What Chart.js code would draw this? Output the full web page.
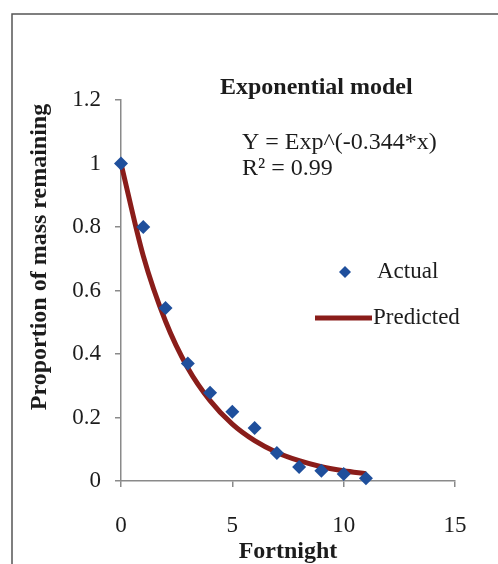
<!DOCTYPE html>
<html>
<head>
<meta charset="utf-8">
<title>Exponential model</title>
<script src="https://cdn.jsdelivr.net/npm/chart.js@4"></script>
<style>
    html, body { margin: 0; padding: 0; background: #fff; }
    #wrap { width: 498px; height: 564px; position: relative; }
</style>
</head>
<body>
<div id="wrap"><canvas id="decayChart"></canvas></div>
<script>
// Proportion of mass remaining per fortnight
const fortnight = [0, 1, 2, 3, 4, 5, 6, 7, 8, 9, 10, 11];
const actual = [1.0, 0.80, 0.545, 0.37, 0.278, 0.218, 0.167, 0.088, 0.044, 0.032, 0.022, 0.009];
// Y = Exp(-0.344 * x)
const predicted = [1.0, 0.709, 0.503, 0.356, 0.253, 0.179, 0.127, 0.090, 0.064, 0.045, 0.032, 0.023];

const xTicks = [0, 5, 10, 15];
const yTicks = [0, 0.2, 0.4, 0.6, 0.8, 1, 1.2];

const SERIF = '"Liberation Serif", "Times New Roman", serif';
const TEXT = '#1c1c1c';
const BLUE = '#1f4f9c';
const RED = '#8a1d1a';

// Frame, titles, equation and legend drawn straight onto the canvas
const annotations = {
    id: 'annotations',
    beforeDraw(chart) {
        const ctx = chart.ctx;
        ctx.save();
        ctx.strokeStyle = '#555';
        ctx.lineWidth = 1.5;
        ctx.beginPath();
        ctx.moveTo(12, 564);
        ctx.lineTo(12, 14);
        ctx.lineTo(498, 14);
        ctx.stroke();
        ctx.restore();
    },
    afterDraw(chart) {
        const ctx = chart.ctx;
        ctx.save();
        ctx.fillStyle = TEXT;
        ctx.textBaseline = 'middle';

        ctx.font = 'bold 24px ' + SERIF;
        ctx.textAlign = 'left';
        ctx.fillText('Exponential model', 220, 88);

        ctx.font = '24px ' + SERIF;
        ctx.fillText('Y = Exp^(-0.344*x)', 242, 143);
        ctx.fillText('R\u00B2 = 0.99', 242, 169);

        // axis titles
        ctx.font = 'bold 24px ' + SERIF;
        ctx.textAlign = 'center';
        ctx.fillText('Fortnight', 288, 552);
        ctx.save();
        ctx.translate(40, 257);
        ctx.rotate(-Math.PI / 2);
        ctx.fillText('Proportion of mass remaining', 0, 0);
        ctx.restore();

        // legend
        ctx.font = '23px ' + SERIF;
        ctx.textAlign = 'left';
        ctx.fillStyle = BLUE;
        ctx.beginPath();
        ctx.moveTo(345, 266);
        ctx.lineTo(351, 272);
        ctx.lineTo(345, 278);
        ctx.lineTo(339, 272);
        ctx.closePath();
        ctx.fill();
        ctx.fillStyle = TEXT;
        ctx.fillText('Actual', 377, 272);

        ctx.strokeStyle = RED;
        ctx.lineWidth = 5;
        ctx.beginPath();
        ctx.moveTo(315, 318);
        ctx.lineTo(372, 318);
        ctx.stroke();
        ctx.fillText('Predicted', 373, 318);
        ctx.restore();
    }
};

const ctx = document.getElementById('decayChart');

new Chart(ctx, {
    type: 'scatter',
    data: {
        datasets: [
            {
                label: 'Actual',
                data: fortnight.map((x, i) => ({ x: x, y: actual[i] })),
                pointStyle: 'rectRot',
                pointRadius: 7,
                backgroundColor: BLUE,
                borderColor: BLUE,
                borderWidth: 0,
                clip: false
            },
            {
                label: 'Predicted',
                data: fortnight.map((x, i) => ({ x: x, y: predicted[i] })),
                showLine: true,
                cubicInterpolationMode: 'monotone',
                borderColor: RED,
                borderWidth: 5,
                pointRadius: 0,
                fill: false,
                clip: false
            }
        ]
    },
    options: {
        responsive: true,
        maintainAspectRatio: false,
        animation: false,
        layout: {
            padding: { top: 100, right: 43, left: 0, bottom: 0 }
        },
        plugins: {
            legend: { display: false },
            tooltip: { enabled: false }
        },
        scales: {
            x: {
                type: 'linear',
                min: 0,
                max: 15,
                afterBuildTicks: (scale) => { scale.ticks = xTicks.map(v => ({ value: v })); },
                afterFit: (scale) => { scale.height = 83; },
                border: { color: '#8a8a8a', width: 1.5 },
                grid: { drawOnChartArea: false, drawTicks: true, tickLength: 6, color: '#8a8a8a', lineWidth: 1.5 },
                ticks: {
                    color: TEXT,
                    padding: 25,
                    maxRotation: 0,
                    font: { family: SERIF, size: 23 }
                }
            },
            y: {
                min: 0,
                max: 1.2,
                afterBuildTicks: (scale) => { scale.ticks = yTicks.map(v => ({ value: v })); },
                afterFit: (scale) => { scale.width = 121; },
                border: { color: '#8a8a8a', width: 1.5 },
                grid: { drawOnChartArea: false, drawTicks: true, tickLength: 6, color: '#8a8a8a', lineWidth: 1.5 },
                ticks: {
                    color: TEXT,
                    padding: 14,
                    font: { family: SERIF, size: 23 },
                    callback: (v) => String(Math.round(v * 10) / 10)
                }
            }
        }
    },
    plugins: [annotations]
});
</script>
</body>
</html>
